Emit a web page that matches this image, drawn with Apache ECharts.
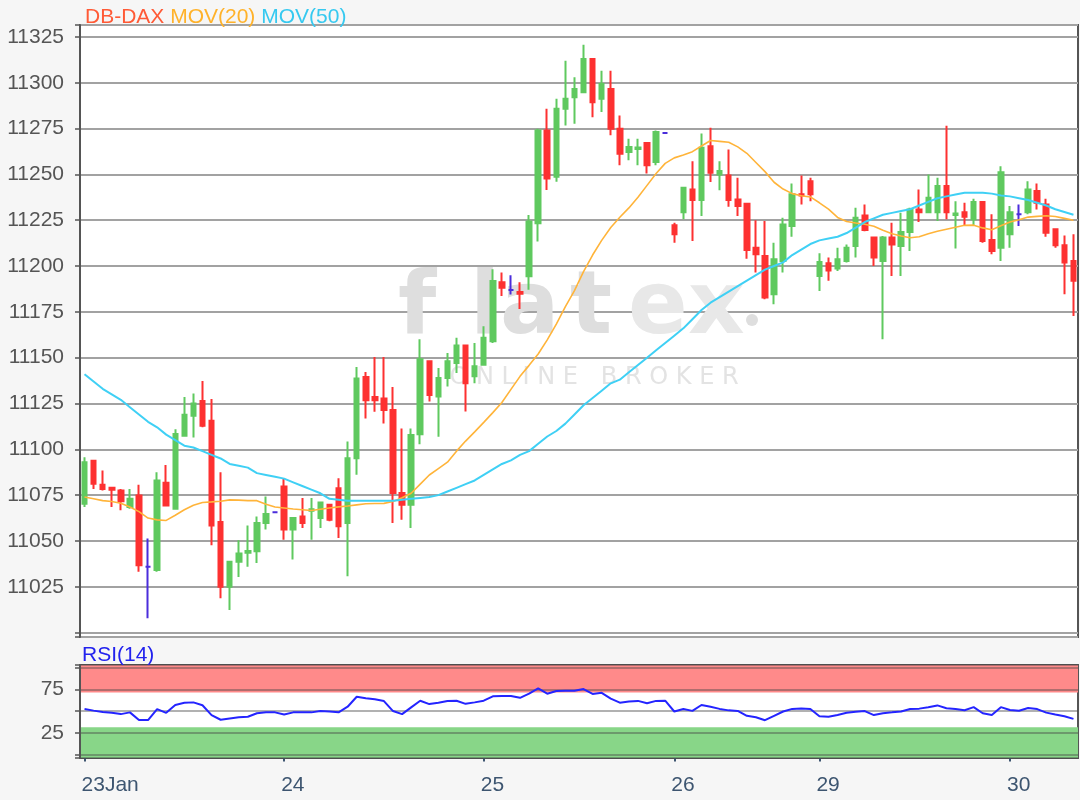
<!DOCTYPE html>
<html>
<head>
<meta charset="utf-8">
<script src="https://cdn.jsdelivr.net/npm/echarts@6/dist/echarts.min.js"></script>
<style>
html,body{margin:0;padding:0;background:#f6f6f6;}
#chart{width:1080px;height:800px;}
</style>
</head>
<body>
<div id="chart"></div>
<script>
// ---- data ----
const dayNames = ['23Jan', '24', '25', '26', '29', '30'];
const barsPerDay = [22, 22, 21, 16, 21, 8];

const opens = [11070.3, 11093.8, 11080.6, 11079, 11077.5, 11068.5, 11074.8, 11035.9, 11034.1, 11081.7,
 11067.6, 11107.4, 11118.3, 11126.4, 11115.6, 11060.3, 11025, 11038.6, 11043.5, 11044.4,
 11059.8, 11065.6, 11079.7, 11056.2, 11063.4, 11066.5, 11062.5, 11069.7, 11078.8, 11059.8,
 11095.1, 11139.5, 11128.6, 11127.7, 11121.4, 11076.1, 11069.7, 11108.2, 11148, 11128.8,
 11138.9, 11147.1, 11156.6, 11139.8, 11146.2, 11158.9, 11191.2, 11186.9, 11185.8, 11194.4,
 11223.4, 11274, 11248.7, 11285.8, 11292.1, 11294.8, 11312.9, 11291.2, 11296.6, 11274.9,
 11262.2, 11263.8, 11267.1, 11256.8, 11272.6, 11222.2, 11229.4, 11241.8, 11236, 11265.4,
 11250, 11249.4, 11236.3, 11234, 11210, 11205.5, 11184.6, 11202.8, 11221.8, 11239.1,
 11246.3, 11194.6, 11201.5, 11198.6, 11202.8, 11210.9, 11227.6, 11215.5, 11202.8, 11215.5,
 11210.9, 11218.5, 11230.9, 11229.4, 11229.4, 11243.6, 11227.8, 11229.4, 11225.5, 11234.9,
 11214.2, 11210, 11217.3, 11228.2, 11229.4, 11240.9, 11233.6, 11220, 11211.3, 11202.8];

const closes = [11093, 11081.2, 11078.4, 11077.9, 11071.6, 11073, 11036.8, 11035.9, 11083, 11069.4,
 11108.3, 11118.8, 11125, 11112.9, 11058.5, 11025, 11038.6, 11043.1, 11044.5, 11059.8,
 11064.7, 11065.6, 11056.2, 11062.5, 11059.8, 11067.3, 11071, 11061.6, 11058, 11095.1,
 11138.6, 11126.8, 11126.8, 11121.4, 11076.1, 11069.7, 11107.8, 11149.2, 11129.7, 11138.9,
 11148, 11156.6, 11136.1, 11145.3, 11160.8, 11191.8, 11188.1, 11186.9, 11184.9, 11224.3,
 11274, 11247.8, 11285.8, 11291.2, 11296.6, 11312.9, 11289.4, 11299.3, 11274.9, 11261.3,
 11265, 11264.6, 11255, 11273.1, 11272.6, 11217.3, 11242.7, 11236, 11264.5, 11250.9,
 11251.8, 11236, 11232.7, 11208.8, 11206.4, 11182.8, 11203.7, 11222.7, 11239.1, 11238.5,
 11239.1, 11202.2, 11197.5, 11203.7, 11210, 11226.4, 11219.6, 11204.6, 11215.5, 11211.8,
 11218.5, 11230.9, 11229.4, 11237.3, 11243.6, 11229.4, 11228.6, 11226.9, 11234.9, 11213.7,
 11208.2, 11251.2, 11229.4, 11228.2, 11241.8, 11234.5, 11218.2, 11211.3, 11201.9, 11191.9];

const lows = [11068.5, 11078.4, 11077.5, 11068.5, 11066.7, 11067.6, 11033.2, 11007.8, 11033.2, 11069.4,
 11067.6, 11107.4, 11106.5, 11112, 11047.6, 11018.7, 11012.3, 11030.4, 11035.9, 11038,
 11056.2, 11065.2, 11050.7, 11039.9, 11057.1, 11050.7, 11057.1, 11060.7, 11051.6, 11030.8,
 11086.1, 11116.8, 11120.5, 11114.1, 11059.8, 11061.6, 11057.1, 11102.8, 11126.1, 11106.9,
 11134.3, 11141.6, 11120.6, 11136.1, 11146.2, 11158, 11183.6, 11184.5, 11176.6, 11187,
 11213.4, 11241.5, 11246, 11276.7, 11277.6, 11294.8, 11281.2, 11284, 11271.3, 11255,
 11257.7, 11255, 11250.5, 11255, 11272.6, 11212.7, 11225.5, 11213.7, 11227.3, 11245.8,
 11241.4, 11232.4, 11227.3, 11204, 11196.4, 11181.9, 11179.2, 11196.4, 11216, 11233.6,
 11235.4, 11186.4, 11191.9, 11197.3, 11201.9, 11204.6, 11219, 11200, 11160, 11194.6,
 11194.6, 11208.2, 11224, 11229.4, 11224.5, 11225.5, 11209.5, 11221.8, 11222.2, 11212.7,
 11206.4, 11202.8, 11210, 11221.8, 11228.2, 11230.9, 11216, 11210, 11184.6, 11172.8];

const highs = [11095.7, 11094, 11088.4, 11079, 11078.4, 11078.4, 11080.6, 11051.3, 11087.5, 11091.5,
 11111, 11128.6, 11130.4, 11137.3, 11127.4, 11087.5, 11038.6, 11050.4, 11058.5, 11063.4,
 11074.3, 11066, 11084.2, 11062.5, 11073.4, 11073.4, 11071, 11069.7, 11084.2, 11104.2,
 11144.9, 11142.2, 11150.4, 11150.4, 11134, 11111.4, 11111.4, 11160, 11148, 11144.3,
 11152.6, 11160.8, 11156.6, 11158, 11167.2, 11198.2, 11196.4, 11194.9, 11191.2, 11227.9,
 11274.9, 11285.8, 11291.2, 11312, 11303, 11320.7, 11312.9, 11306.6, 11306.6, 11282.1,
 11269.5, 11269.5, 11267.1, 11274, 11272.6, 11223.6, 11242.7, 11257.2, 11272.3, 11275.4,
 11257.2, 11263.6, 11248.1, 11234, 11225, 11224.5, 11212.7, 11226.4, 11245, 11249.4,
 11248.1, 11207, 11204.6, 11210, 11211.8, 11231.8, 11233.6, 11215.5, 11216.4, 11223.6,
 11229.1, 11231.8, 11241.8, 11250, 11248.1, 11276.6, 11235.4, 11234.5, 11236.7, 11234.9,
 11228.2, 11254.5, 11232.7, 11233.6, 11246.3, 11245, 11236.7, 11220, 11216.7, 11217.3];

const mov20 = [11074, 11073, 11072, 11071.5, 11070.6, 11068.5, 11066, 11062.5, 11061.5, 11061.2,
 11064, 11067, 11069.5, 11071, 11071.3, 11071.7, 11072.4, 11072.3, 11072, 11072,
 11070, 11068.5, 11068, 11067.4, 11067, 11066.6, 11067.3, 11068, 11068.6, 11069.1,
 11069.7, 11070.3, 11070.4, 11070.5, 11071.5, 11073.6, 11076, 11081, 11086, 11089.5,
 11093, 11099, 11104.5, 11109.5, 11114.7, 11120, 11125.5, 11132.7, 11139.8, 11145.8,
 11152, 11159.7, 11168.3, 11177.8, 11186.6, 11196.9, 11206, 11214, 11221, 11226.6,
 11231.7, 11237.5, 11244, 11250.5, 11256, 11259, 11260.6, 11262.4, 11265.5, 11268.5,
 11268, 11267.5, 11265, 11261.5, 11256.5, 11251.5, 11245.7, 11242, 11239.5, 11238.3,
 11237.7, 11234.5, 11231, 11226.5, 11224.3, 11223.5, 11222.8, 11221.7, 11219.5, 11217.6,
 11216.4, 11215.4, 11216, 11217.6, 11219, 11220.1, 11221.2, 11222.2, 11222.3, 11220.8,
 11219.8, 11222, 11224, 11225.2, 11226.7, 11227.1, 11227.4, 11227, 11226, 11225];

const mov50 = [11141, 11137, 11133, 11130, 11127, 11123, 11119, 11115, 11112, 11108,
 11105, 11102, 11101, 11099, 11097, 11095, 11092, 11091, 11090, 11087,
 11086, 11085, 11084, 11082, 11080, 11078, 11076, 11073, 11072.5, 11072,
 11072, 11072, 11072, 11072, 11072, 11072.5, 11073, 11073.5, 11074, 11075,
 11077, 11079, 11081, 11083, 11086, 11089, 11092, 11094, 11097, 11099,
 11103, 11107, 11110, 11114, 11119, 11124, 11128, 11132, 11136, 11138,
 11142, 11146, 11150, 11154, 11158, 11162, 11166, 11171, 11176, 11180,
 11183, 11186, 11189, 11192, 11195, 11198, 11200, 11202, 11206, 11209,
 11212, 11214, 11215, 11216, 11218, 11221, 11224, 11226, 11228, 11229,
 11230, 11231, 11233, 11235, 11237, 11238, 11239, 11240, 11240, 11240,
 11239.5, 11238.5, 11238, 11237, 11236, 11234.5, 11233, 11231, 11229.5, 11228];

const rsi14 = [52.3, 50.5, 49, 48, 46.5, 48.5, 39.6, 39.6, 52.3, 48,
 56.9, 59.5, 60, 56.7, 45.4, 40, 41.5, 42.8, 43.4, 47.5,
 48.5, 48.5, 46, 48.5, 48.5, 48.5, 50, 49.5, 48.5, 55,
 66.5, 64.8, 63.5, 61.5, 50, 46.5, 54.3, 61.9, 58, 59.5,
 61.5, 61.9, 58.3, 60, 61.9, 67, 67.3, 67.3, 65.2, 70,
 76, 70, 73, 73.4, 73.4, 75.3, 69.7, 71, 64.3, 59.7,
 61, 61.7, 59, 61.7, 61.9, 49.5, 52.3, 50.2, 57, 55,
 52.5, 50.8, 50.2, 44.5, 42.9, 39.5, 44.5, 49.5, 52.5, 53,
 52.3, 44, 43.4, 45.5, 48, 49.3, 50, 45.4, 47.6, 48.5,
 49.5, 52.3, 52.8, 54.3, 56.5, 53.2, 52.3, 51, 54.5, 47.5,
 45.4, 54.5, 51.3, 50.4, 53.5, 52.3, 48.2, 46, 44.1, 41];

const priceLabelStep = 25;
const rsiLabels = [25, 75];
const rsiHighZone = [71.5, 103];
const rsiLowZone = [-4, 31.5];

// ---- build library inputs ----
const categories = [];
const dayStart = new Set();
dayNames.forEach((d, di) => {
  for (let k = 0; k < barsPerDay[di]; k++) {
    if (k === 0) dayStart.add(categories.length);
    categories.push(d + ' #' + (k + 1));
  }
});
const candleData = opens.map((o, i) => [o, closes[i], lows[i], highs[i]]);

const UP = '#5fc95f', DOWN = '#fd3131', DOJI = '#4b2ddb';
const FONT = '"Liberation Sans", Arial, sans-serif';
const WM = 'bold 88px "DejaVu Sans"';

function wmLetter(ch, x, fill) {
  return {type: 'text', z: 1, silent: true, x: x, y: 266,
    style: {text: ch, font: WM, fill: fill, textAlign: 'left', textVerticalAlign: 'top', align: 'left', verticalAlign: 'top'}};
}

const chart = echarts.init(document.getElementById('chart'));
chart.setOption({
  backgroundColor: '#f6f6f6',
  animation: false,
  title: {
    left: 80, top: 2,
    text: '{a|DB-DAX} {b|MOV(20)} {c|MOV(50)}',
    textStyle: {
      fontFamily: FONT, fontSize: 21, fontWeight: 'normal',
      rich: {
        a: {color: '#ff5a36', fontSize: 21, fontFamily: FONT},
        b: {color: '#ffb22a', fontSize: 21, fontFamily: FONT},
        c: {color: '#36c9f0', fontSize: 21, fontFamily: FONT}
      }
    }
  },
  graphic: [
    wmLetter('f', 398, '#dedede'),
    wmLetter('l', 470, '#dedede'),
    wmLetter('a', 500, '#dedede'),
    wmLetter('t', 570, '#dedede'),
    wmLetter('e', 628, '#e8e8e8'),
    wmLetter('x', 688, '#e8e8e8'),
    {type: 'circle', z: 1, silent: true, shape: {cx: 752, cy: 320, r: 6}, style: {fill: '#dedede'}},
    {type: 'text', z: 1, silent: true, x: 594, y: 378,
     style: {text: 'O N L I N E   B R O K E R', font: '24px "DejaVu Sans"', fill: '#e3e3e3',
       textAlign: 'center', textVerticalAlign: 'middle', align: 'center', verticalAlign: 'middle'}},
    {type: 'text', z: 10, silent: true, x: 82, y: 655,
     style: {text: 'RSI(14)', font: '21px ' + FONT, fill: '#2222ee', textVerticalAlign: 'middle', verticalAlign: 'middle'}}
  ],
  grid: [
    {left: 80, right: 2, top: 25, bottom: 163, show: true, backgroundColor: '#ffffff', borderColor: '#555555', borderWidth: 2},
    {left: 80, right: 2, top: 665, bottom: 42, show: true, backgroundColor: '#ffffff', borderColor: '#555555', borderWidth: 2}
  ],
  xAxis: [
    {type: 'category', gridIndex: 0, data: categories, boundaryGap: true,
     axisLine: {show: false}, axisTick: {show: false}, axisLabel: {show: false}, splitLine: {show: false}},
    {type: 'category', gridIndex: 1, data: categories, boundaryGap: true,
     axisLine: {show: false},
     axisTick: {show: true, alignWithLabel: true, length: 7, interval: (i) => dayStart.has(i), lineStyle: {color: '#3d5570', width: 2}},
     axisLabel: {show: true, interval: (i) => dayStart.has(i), formatter: (v) => v.split(' #')[0],
       align: 'left', margin: 17, color: '#3d5570', fontSize: 21, fontFamily: FONT, padding: [0, 0, 0, -3]},
     splitLine: {show: false}}
  ],
  yAxis: [
    {type: 'value', gridIndex: 0, min: 10997.6, max: 11331.5, minInterval: priceLabelStep, maxInterval: priceLabelStep, splitNumber: 13,
     axisLine: {show: true, lineStyle: {color: '#555555', width: 2}},
     axisTick: {show: true, length: 5, lineStyle: {color: '#555555', width: 1.5}},
     axisLabel: {color: '#555555', fontSize: 21, fontFamily: FONT, margin: 16,
       formatter: (v) => (Math.abs(v % priceLabelStep) < 1e-6 && v !== 11000) ? String(v) : ''},
     splitLine: {show: true, lineStyle: {color: '#a2a2a2', width: 2}}},
    {type: 'value', gridIndex: 1, min: -4, max: 103, minInterval: 25, maxInterval: 25, splitNumber: 4, z: 3,
     axisLine: {show: true, lineStyle: {color: '#555555', width: 2}},
     axisTick: {show: true, length: 5, lineStyle: {color: '#555555', width: 1.5}},
     axisLabel: {color: '#555555', fontSize: 21, fontFamily: FONT, margin: 16,
       formatter: (v) => rsiLabels.includes(v) ? String(v) : ''},
     splitLine: {show: true, lineStyle: {color: 'rgba(70,70,70,0.42)', width: 2}}}
  ],
  series: [
    {type: 'candlestick', name: 'DB-DAX', xAxisIndex: 0, yAxisIndex: 0, data: candleData,
     barWidth: 5, z: 2,
     itemStyle: {color: UP, color0: DOWN, borderColor: UP, borderColor0: DOWN, borderColorDoji: DOJI, borderWidth: 2}},
    {type: 'line', name: 'MOV(20)', xAxisIndex: 0, yAxisIndex: 0, data: mov20, showSymbol: false, z: 3,
     lineStyle: {color: '#ffb43a', width: 1.6}, itemStyle: {color: '#ffb43a'}},
    {type: 'line', name: 'MOV(50)', xAxisIndex: 0, yAxisIndex: 0, data: mov50, showSymbol: false, z: 3,
     lineStyle: {color: '#3fd0f5', width: 2}, itemStyle: {color: '#3fd0f5'}},
    {type: 'line', name: 'zones', xAxisIndex: 1, yAxisIndex: 1, data: categories.map(() => null), showSymbol: false, z: 1,
     lineStyle: {opacity: 0}, silent: true,
     markArea: {silent: true, data: [
       [{yAxis: rsiHighZone[0], itemStyle: {color: '#ff8a8a'}}, {yAxis: rsiHighZone[1]}],
       [{yAxis: rsiLowZone[0], itemStyle: {color: '#88d688'}}, {yAxis: rsiLowZone[1]}]
     ]}},
    {type: 'line', name: 'RSI(14)', xAxisIndex: 1, yAxisIndex: 1, data: rsi14, showSymbol: false, z: 5,
     lineStyle: {color: '#2424ff', width: 2}, itemStyle: {color: '#2424ff'}}
  ]
});
</script>
</body>
</html>
